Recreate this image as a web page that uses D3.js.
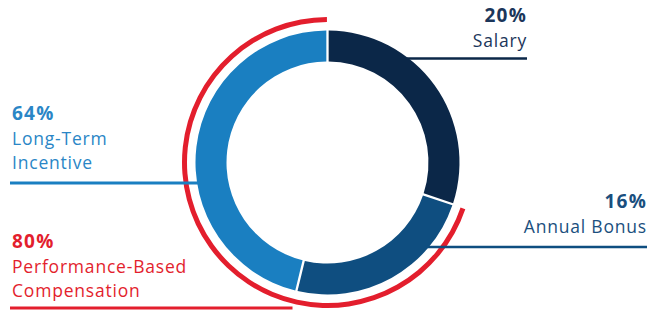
<!DOCTYPE html>
<html>
<head>
<meta charset="utf-8">
<script src="https://cdn.jsdelivr.net/npm/d3@7"></script>
<style>
  html, body { margin: 0; padding: 0; background: #fff; }
  svg text { font-family: "Open Sans", Lato, sans-serif; font-size: 17.5px; letter-spacing: 0.8px; }
  .pct { font-weight: 700; font-size: 19px; letter-spacing: 1.2px; }
</style>
</head>
<body>
<div id="chart"></div>
<script>
// pay mix components
const components = ['Salary', 'Annual Bonus', 'Long-Term Incentive']
const pctLabels = [20, 16, 64]
// share of the ring each segment takes, as drawn in the graphic
const arcShare = [30.1, 23.6, 46.3]
const perfLabel = 80
const perfName = ['Performance-Based', 'Compensation']

const width = 658
const height = 313

const colors = ['#0b2748', '#0f4e80', '#1a7fc1']
const textColors = ['#1b365a', '#1a4f7e', '#2a86c6']
const red = '#e31e2d'

let svg = d3.select('#chart').append('svg')
  .attr('width', width)
  .attr('height', height)

const cx = 327.5
const cy = 162.5
const rInner = 101
const rOuter = 132

let pie = d3.pie()
  .sort(null)
  .padAngle(0.014)
  .value(d => d)

let arcs = pie(arcShare)

let arc = d3.arc()
  .innerRadius(rInner)
  .outerRadius(rOuter)

let ring = svg.append('g')
  .attr('transform', `translate(${cx},${cy})`)

ring.selectAll('path.seg')
  .data(arcs)
  .enter()
  .append('path')
  .attr('class', 'seg')
  .attr('d', arc)
  .style('fill', (d, i) => colors[i])

// red bracket around the performance-based part (bonus + LTI)
let perfArc = d3.arc()
  .innerRadius(140.5)
  .outerRadius(145.5)
  .startAngle(arcs[1].startAngle + 0.005)
  .endAngle(arcs[2].endAngle - 0.004)

ring.append('path')
  .attr('d', perfArc())
  .style('fill', red)

// x where a horizontal line at y meets the outer ring edge
const edgeX = (y, side) => cx + side * Math.sqrt(rOuter * rOuter - (y - cy) * (y - cy))

let labels = [
  { i: 0, anchor: 'end', x: 527, pctY: 22, lines: [components[0]], lineY: 58.5, x1: edgeX(58.5, 1) - 2, x2: 527, sw: 2.5 },
  { i: 1, anchor: 'end', x: 647, pctY: 208, lines: [components[1]], lineY: 247, x1: edgeX(247, 1) - 2, x2: 647, sw: 2.5 },
  { i: 2, anchor: 'start', x: 12, pctY: 120, lines: ['Long-Term', 'Incentive'], lineY: 183, x1: 10, x2: edgeX(183, -1) + 2, sw: 3 }
]

let lineH = [0, 27, 50]

let lbl = svg.append('g')

labels.forEach(l => {
  lbl.append('line')
    .attr('x1', l.x1).attr('x2', l.x2)
    .attr('y1', l.lineY).attr('y2', l.lineY)
    .style('stroke', colors[l.i])
    .style('stroke-width', l.sw)

  lbl.append('text')
    .attr('class', 'pct')
    .attr('x', l.x).attr('y', l.pctY)
    .attr('text-anchor', l.anchor)
    .style('fill', textColors[l.i])
    .text(pctLabels[l.i] + '%')

  l.lines.forEach((t, j) => {
    lbl.append('text')
      .attr('x', l.x).attr('y', l.pctY + lineH[j + 1] - (j ? 1 : 2))
      .attr('text-anchor', l.anchor)
      .style('fill', textColors[l.i])
      .text(t)
  })
})

// performance-based label
lbl.append('line')
  .attr('x1', 10).attr('x2', cx - 35)
  .attr('y1', 308).attr('y2', 308)
  .style('stroke', red)
  .style('stroke-width', 3)

lbl.append('text')
  .attr('class', 'pct')
  .attr('x', 12).attr('y', 248)
  .style('fill', red)
  .text(perfLabel + '%')

perfName.forEach((t, j) => {
  lbl.append('text')
    .attr('x', 12).attr('y', 273 + j * 24)
    .style('fill', red)
    .text(t)
})
</script>
</body>
</html>
